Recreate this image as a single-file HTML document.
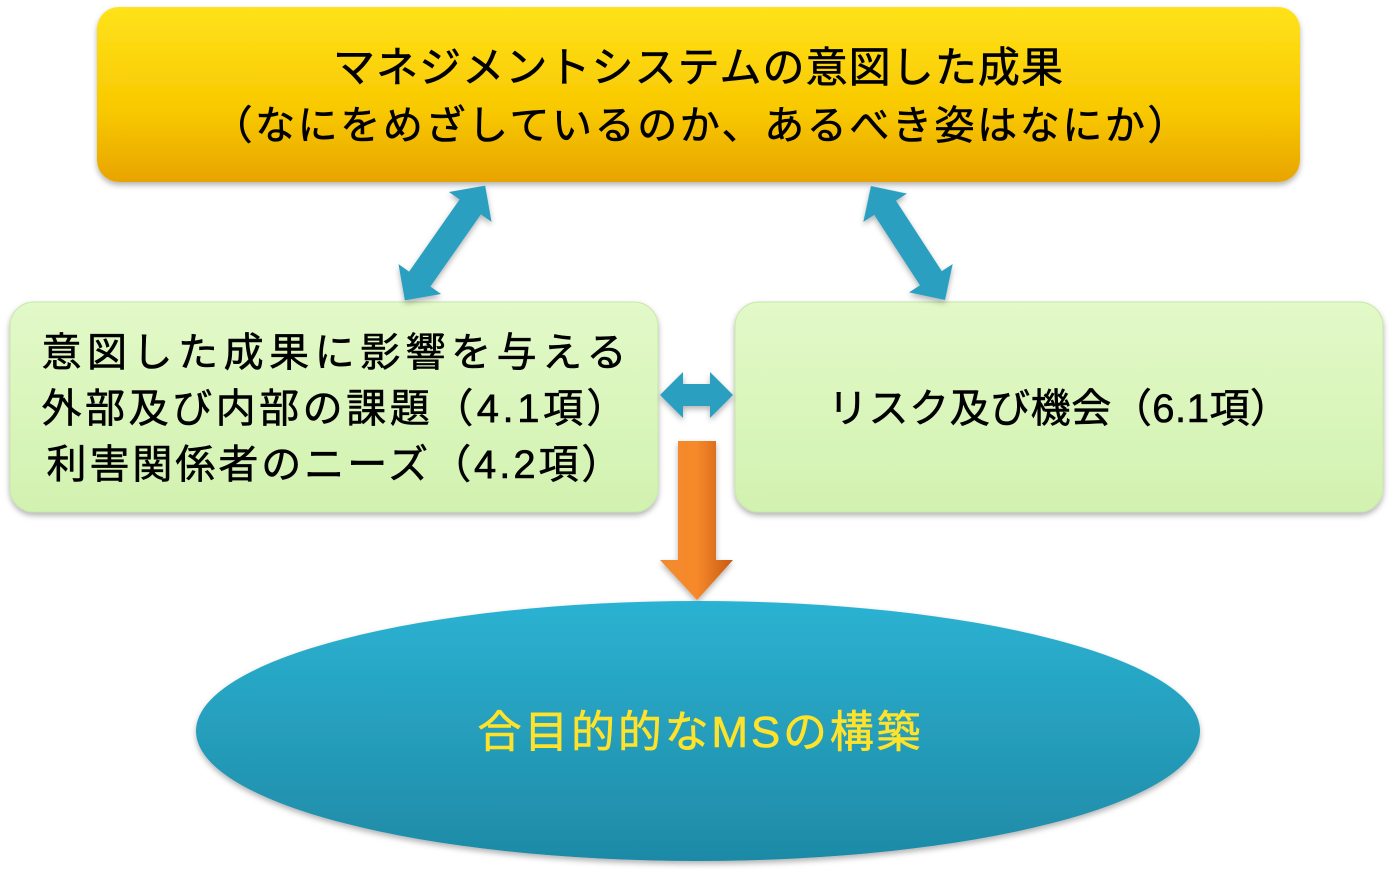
<!DOCTYPE html>
<html><head><meta charset="utf-8"><style>
html,body{margin:0;padding:0;background:#fff;}
svg{display:block;}
text{font-family:"Liberation Sans","Noto Sans CJK JP",sans-serif;stroke:currentColor;stroke-width:0.6;}
</style></head><body>
<svg width="1393" height="874" viewBox="0 0 1393 874" xmlns="http://www.w3.org/2000/svg">
<defs>
<linearGradient id="gy" x1="0" y1="0" x2="0" y2="1">
<stop offset="0" stop-color="#ffe21a"/><stop offset="0.6" stop-color="#f8c800"/><stop offset="1" stop-color="#e8a400"/></linearGradient>
<linearGradient id="gg" x1="0" y1="0" x2="0" y2="1">
<stop offset="0" stop-color="#e2f9c8"/><stop offset="1" stop-color="#d2f2b0"/></linearGradient>
<linearGradient id="gb" x1="0" y1="0" x2="0" y2="1">
<stop offset="0" stop-color="#2cb2d2"/><stop offset="1" stop-color="#1e8aa6"/></linearGradient>
<linearGradient id="go" x1="0" y1="0" x2="1" y2="0">
<stop offset="0" stop-color="#f08a30"/><stop offset="0.5" stop-color="#f7892a"/><stop offset="1" stop-color="#c85a14"/></linearGradient>
<filter id="sh" x="-5%" y="-5%" width="110%" height="120%"><feDropShadow dx="0" dy="3" stdDeviation="3" flood-color="#000" flood-opacity="0.3"/></filter>
</defs>
<rect x="97" y="7" width="1203" height="175" rx="22" fill="url(#gy)" filter="url(#sh)"/>
<text x="698" y="82" font-size="42" text-anchor="middle" fill="#000" color="#000" textLength="730">マネジメントシステムの意図した成果</text>
<text x="700" y="139" font-size="40" text-anchor="middle" fill="#000" color="#000" textLength="975">（なにをめざしているのか、あるべき姿はなにか）</text>

<rect x="10" y="302" width="648" height="210" rx="24" fill="url(#gg)" stroke="#c8e8a8" filter="url(#sh)"/>
<rect x="735" y="302" width="648" height="210" rx="24" fill="url(#gg)" stroke="#c8e8a8" filter="url(#sh)"/>
<text x="334" y="366" font-size="40" text-anchor="middle" color="#000" textLength="585">意図した成果に影響を与える</text>
<text x="334" y="422" font-size="40" text-anchor="middle" color="#000" textLength="585">外部及び内部の課題（4.1項）</text>
<text x="334" y="478" font-size="40" text-anchor="middle" color="#000" textLength="575">利害関係者のニーズ（4.2項）</text>
<text x="1059" y="422" font-size="40" text-anchor="middle" color="#000" textLength="462">リスク及び機会（6.1項）</text>

<g fill="#2a9fc0" filter="url(#sh)">
<g transform="translate(445,243) rotate(-55)">
<polygon points="-70,0 -44,-26 -44,-13 44,-13 44,-26 70,0 44,26 44,13 -44,13 -44,26"/>
</g>
<g transform="translate(908,243) rotate(57)">
<polygon points="-68,0 -42,-26 -42,-13 42,-13 42,-26 68,0 42,26 42,13 -42,13 -42,26"/>
</g>
<polygon points="660,395 683,372 683,384 710,384 710,372 733,395 710,418 710,406 683,406 683,418"/>
</g>
<polygon points="678,441 716,441 716,560 733,560 697,600 660,560 678,560" fill="url(#go)" filter="url(#sh)"/>

<ellipse cx="698" cy="731" rx="502" ry="130" fill="url(#gb)" filter="url(#sh)"/>
<text x="699" y="747" font-size="44" text-anchor="middle" fill="#ffe22a" color="#ffe22a" textLength="443">合目的的なMSの構築</text>
</svg>
</body></html>
